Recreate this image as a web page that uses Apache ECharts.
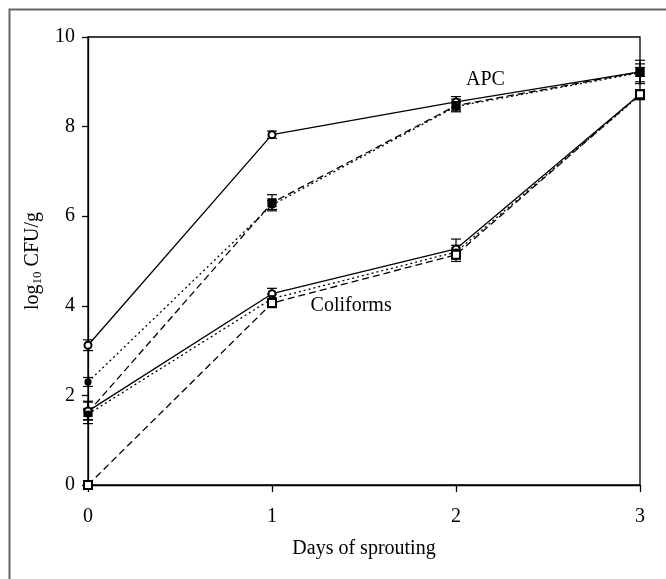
<!DOCTYPE html>
<html>
<head>
<meta charset="utf-8">
<script src="https://cdn.jsdelivr.net/npm/echarts@6/dist/echarts.min.js"></script>
<style>
  html, body { margin: 0; padding: 0; background: #fff; }
  #chart { width: 666px; height: 579px; }
</style>
</head>
<body>
<div id="chart"></div>
<script>
const days = [0, 1, 2, 3];
const xTicks = [0, 1, 2, 3];
const yTicks = [0, 2, 4, 6, 8, 10];

// APC
const apcSolid = [3.12, 7.82, 8.55, 9.22];
const apcDotted = [2.3, 6.25, 8.45, 9.2];
const apcDashed = [1.62, 6.3, 8.47, 9.22];
// Coliforms
const coliSolid = [1.65, 4.27, 5.27, 8.72];
const coliDotted = [1.58, 4.16, 5.2, 8.7];
const coliDashed = [0, 4.06, 5.14, 8.72];

// standard errors
const apcSolidErr = [0.12, 0.08, 0.12, 0.1];
const apcDottedErr = [0.1, 0.1, 0.1, 0.2];
const apcDashedErr = [0.25, 0.18, 0.14, 0.26];
const coliSolidErr = [0.2, 0.12, 0.22, 0.1];
const coliDottedErr = [0.12, 0.1, 0.15, 0.1];
const coliDashedErr = [0.04, 0.1, 0.15, 0.1];

const FONT = "'Liberation Serif', 'DejaVu Serif', serif";
const chart = echarts.init(document.getElementById("chart"));

function lineSeries(name, vals, dash, symbol, size) {
  return {
    name, type: "line", data: days.map((d, i) => [d, vals[i]]),
    symbol, symbolSize: size,
    itemStyle: { color: "#000", borderColor: "#000", borderWidth: 1.2 },
    lineStyle: { color: "#000", width: 1.3, type: dash },
    z: 3
  };
}

function errSeries(vals, errs) {
  return {
    type: "custom",
    data: days.map((d, i) => [d, vals[i] - errs[i], vals[i] + errs[i]]),
    renderItem: (params, api) => {
      const lo = api.coord([api.value(0), api.value(1)]);
      const hi = api.coord([api.value(0), api.value(2)]);
      const w = 5;
      const st = { stroke: "#000", lineWidth: 1.2 };
      return {
        type: "group",
        children: [
          { type: "line", shape: { x1: lo[0], y1: lo[1], x2: hi[0], y2: hi[1] }, style: st },
          { type: "line", shape: { x1: lo[0] - w, y1: lo[1], x2: lo[0] + w, y2: lo[1] }, style: st },
          { type: "line", shape: { x1: hi[0] - w, y1: hi[1], x2: hi[0] + w, y2: hi[1] }, style: st }
        ]
      };
    },
    z: 2
  };
}

function textMark(txt, x, y) {
  return {
    type: "scatter", data: [[x, y]], symbolSize: 0, silent: true,
    itemStyle: { opacity: 1 },
    label: { show: true, formatter: txt, position: "inside", color: "#000", fontFamily: FONT, fontSize: 20 }
  };
}

chart.setOption({
  backgroundColor: "#fff",
  animation: false,
  graphic: [{
    type: "rect", shape: { x: 9.5, y: 9.5, width: 700, height: 600 },
    style: { fill: "none", stroke: "#666", lineWidth: 2 }, silent: true
  }],
  grid: { left: 88, right: 26, top: 37, bottom: 94, show: true, borderColor: "#000", borderWidth: 1.3 },
  xAxis: {
    type: "value", min: xTicks[0], max: xTicks[xTicks.length - 1], interval: 1,
    name: "Days of sprouting", nameLocation: "middle", nameGap: 54,
    nameTextStyle: { color: "#000", fontFamily: FONT, fontSize: 20 },
    axisLine: { lineStyle: { color: "#000", width: 1.3 } },
    axisTick: { show: true, length: 7, lineStyle: { color: "#000", width: 1.3 } },
    axisLabel: { color: "#000", fontFamily: FONT, fontSize: 20, margin: 22 },
    splitLine: { show: false }
  },
  yAxis: {
    type: "value", min: yTicks[0], max: yTicks[yTicks.length - 1], interval: 2,
    name: "log{sub|10} CFU/g", nameLocation: "middle", nameGap: 38, nameRotate: 90,
    nameTextStyle: {
      color: "#000", fontFamily: FONT, fontSize: 20,
      rich: { sub: { fontFamily: FONT, fontSize: 13, verticalAlign: "bottom", padding: [9, 0, 0, 0] } }
    },
    axisLine: { lineStyle: { color: "#000", width: 1.3 } },
    axisTick: { show: true, length: 6, lineStyle: { color: "#000", width: 1.3 } },
    axisLabel: { color: "#000", fontFamily: FONT, fontSize: 20, margin: 13 },
    splitLine: { show: false }
  },
  series: [
    errSeries(apcSolid, apcSolidErr),
    errSeries(apcDotted, apcDottedErr),
    errSeries(apcDashed, apcDashedErr),
    errSeries(coliSolid, coliSolidErr),
    errSeries(coliDotted, coliDottedErr),
    errSeries(coliDashed, coliDashedErr),
    lineSeries("APC solid", apcSolid, "solid", "emptyCircle", 7),
    lineSeries("APC dotted", apcDotted, [2, 3], "circle", 6),
    lineSeries("APC dashed", apcDashed, [7, 4], "rect", 8),
    lineSeries("Coliforms solid", coliSolid, "solid", "emptyCircle", 7),
    lineSeries("Coliforms dotted", coliDotted, [2, 3], "circle", 6),
    lineSeries("Coliforms dashed", coliDashed, [7, 4], "emptyRect", 8),
    textMark("APC", 2.16, 9.05),
    textMark("Coliforms", 1.43, 4.0)
  ]
});
</script>
</body>
</html>
